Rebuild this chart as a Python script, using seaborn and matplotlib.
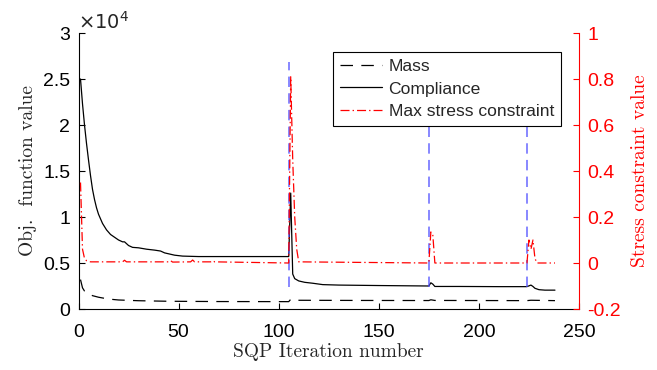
import matplotlib
matplotlib.use("Agg")
import matplotlib.pyplot as plt
import seaborn as sns
import numpy as np

# ---------------- data ----------------
compliance_iter = [1, 2, 3, 4, 5, 6, 7, 8, 9, 10, 12, 14, 16, 18, 20, 22, 23, 25, 27, 30,
                   34, 38, 41, 43, 45, 48, 52, 60, 80, 105, 106, 107, 108, 110, 113, 117,
                   122, 130, 150, 175, 176, 177, 178, 190, 210, 224, 226, 227, 228, 230, 233, 238]
compliance_val = [25000, 22300, 20000, 18000, 16200, 14500, 13000, 11900, 11000, 10300, 9300,
                  8600, 8100, 7800, 7500, 7300, 7300, 6900, 6700, 6650, 6500, 6400, 6300,
                  6100, 6000, 5850, 5750, 5700, 5700, 5700, 12600, 3800, 3300, 3050, 2900,
                  2800, 2650, 2600, 2550, 2500, 2850, 2700, 2450, 2450, 2430, 2430, 2600,
                  2450, 2250, 2100, 2050, 2050]

mass_iter = [1, 2, 3, 5, 7, 10, 15, 20, 30, 45, 70, 105, 106, 107, 140, 175, 176, 178, 224,
             226, 238]
mass_val = [3200, 2300, 1950, 1650, 1450, 1280, 1080, 980, 900, 840, 810, 800, 1050, 950,
            930, 920, 1000, 930, 910, 950, 910]

stress_iter = [1, 2, 3, 4, 6, 22, 23, 24, 45, 46, 47, 56, 57, 58, 66, 67, 68, 105, 106, 107,
               108, 109, 110, 175, 176, 177, 178, 224, 225, 226, 227, 228, 229, 238]
stress_val = [0.35, 0.06, 0.02, 0.01, 0.005, 0.005, 0.012, 0.005, 0.005, 0.01, 0.004, 0.005,
              0.013, 0.005, 0.005, 0.01, 0.005, 0.0, 0.81, 0.45, 0.20, 0.06, 0.005, 0.0,
              0.135, 0.12, 0.0, 0.0, 0.10, 0.06, 0.10, 0.02, 0.0, 0.0]

restart_iters = [105, 175, 224]
restart_span = (-0.105, 0.875)   # on stress axis

x_ticks = [0, 50, 100, 150, 200, 250]
obj_ticks = [0, 5000, 10000, 15000, 20000, 25000, 30000]
stress_ticks = [-0.2, 0, 0.2, 0.4, 0.6, 0.8, 1]

legend_labels = ["Mass", "Compliance", "Max stress constraint"]

# ---------------- style ----------------
sns.set_theme(style="white")
plt.rcParams["font.family"] = ["Liberation Sans", "DejaVu Sans"]
plt.rcParams["lines.scale_dashes"] = False
plt.rcParams["axes.unicode_minus"] = False

fig = plt.figure(figsize=(6.57, 3.70), dpi=100)
W, H = 657, 370
x0, x1, ytop, ybot = 78.5, 579, 33, 309
ax = fig.add_axes([x0 / W, 1 - ybot / H, (x1 - x0) / W, (ybot - ytop) / H])
ax.set_facecolor("white")
ax2 = ax.twinx()

# lines
sns.lineplot(x=mass_iter, y=mass_val, ax=ax, color="black", linewidth=0.9,
             linestyle=(0, (9, 6)), label=legend_labels[0], legend=False)
sns.lineplot(x=compliance_iter, y=compliance_val, ax=ax, color="black", linewidth=0.9,
             label=legend_labels[1], legend=False)

for it in restart_iters:
    ax2.vlines(it, restart_span[0], restart_span[1], colors=(0.3, 0.3, 1.0),
               linewidth=1.1, linestyles=[(0, (7.5, 4.5))], alpha=0.85)

sns.lineplot(x=stress_iter, y=stress_val, ax=ax2, color="red", linewidth=0.9,
             linestyle=(0, (6.5, 2.2, 1, 2.2)), label=legend_labels[2], legend=False)

# axes limits/ticks
ax.set_xlim(0, 250)
ax.set_ylim(0, 30000)
ax2.set_ylim(-0.2, 1)
ax.set_xticks(x_ticks)
ax.set_yticks(obj_ticks)
ax2.set_yticks(stress_ticks)
ax.set_xticklabels([f"{v:g}" for v in x_ticks])
ax.set_yticklabels([f"{v / 1e4:g}" for v in obj_ticks])
ax2.set_yticklabels([f"{v:g}" for v in stress_ticks])

for a in (ax, ax2):
    a.spines["top"].set_visible(False)
ax.spines["right"].set_visible(False)
ax2.spines["left"].set_visible(False)
ax2.spines["bottom"].set_visible(False)
ax.spines["left"].set_color("black")
ax.spines["bottom"].set_color("black")
ax2.spines["right"].set_color("red")
for s in ("left", "bottom"):
    ax.spines[s].set_linewidth(0.8)
ax2.spines["right"].set_linewidth(0.8)

ax.tick_params(axis="both", direction="in", length=4.5, width=0.8, colors="black",
               labelsize=14, pad=6, left=True, bottom=True)
ax.tick_params(axis="x", pad=11)
ax2.tick_params(axis="y", direction="in", length=4.5, width=0.8, colors="red",
                labelsize=14, pad=6, right=True)
ax.grid(False)
ax2.grid(False)

ax.text(0.0, 1.0, r"$\times10^{4}$", transform=ax.transAxes, fontsize=14,
        ha="left", va="bottom")

ax.set_xlabel("SQP Iteration number", fontsize=14, family="cmr10", labelpad=1)
ax.set_ylabel("Obj.  function value", fontsize=14, family="cmr10", labelpad=4)
ax2.set_ylabel("Stress constraint value", fontsize=14, family="cmr10", color="red",
               labelpad=7)

handles = ax.get_lines()[:2] + [ax2.get_lines()[-1]]
leg = ax2.legend(handles, legend_labels, loc="upper right",
                 bbox_to_anchor=(0.964, 0.931), borderaxespad=0, fancybox=False,
                 edgecolor="black", framealpha=1, fontsize=12.6, handlelength=2.4,
                 handletextpad=0.35, labelspacing=0.4, borderpad=0.4)
leg.get_frame().set_linewidth(0.8)

fig.savefig("out.png", dpi=100)
